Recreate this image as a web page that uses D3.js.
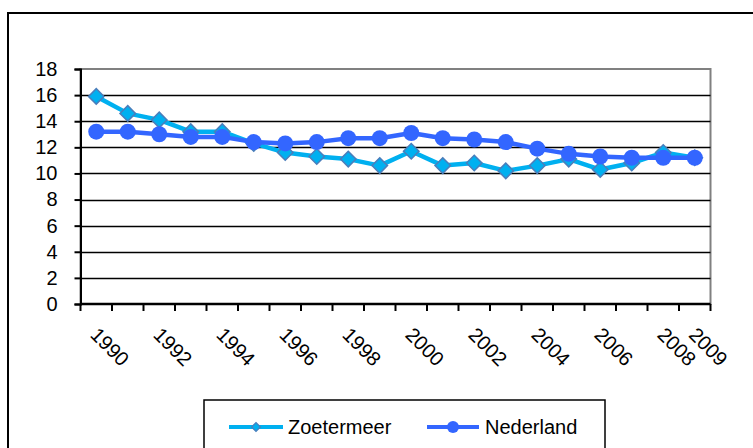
<!DOCTYPE html>
<html><head><meta charset="utf-8">
<script src="https://cdn.jsdelivr.net/npm/d3@7"></script>
<style>body{margin:0;background:#fff}svg{display:block}text{font-family:"Liberation Sans",Arial,sans-serif}</style>
</head><body><svg id="c" width="753" height="448"></svg>
<script>
const years = ["1990","1991","1992","1993","1994","1995","1996","1997","1998","1999","2000","2001","2002","2003","2004","2005","2006","2007","2008","2009"];
const zoetermeer = [15.9,14.6,14.1,13.2,13.2,12.3,11.6,11.3,11.1,10.6,11.7,10.6,10.8,10.2,10.6,11.1,10.3,10.8,11.6,11.2];
const nederland  = [13.2,13.2,13.0,12.8,12.8,12.4,12.3,12.4,12.7,12.7,13.1,12.7,12.6,12.4,11.9,11.5,11.3,11.2,11.2,11.2];
const shownLabels = ["1990","1992","1994","1996","1998","2000","2002","2004","2006","2008","2009"];
const yTicks = [0,2,4,6,8,10,12,14,16,18];
const seriesNames = ["Zoetermeer","Nederland"];

const svg = d3.select("#c");
const L=80.5, R=710.5, T=69, B=304;
const x = d3.scaleBand().domain(years).range([L,R]);
const y = d3.scaleLinear().domain([0,18]).range([B,T]);
const font = 20;

// outer chart border
svg.append("rect").attr("x",8).attr("y",13).attr("width",770).attr("height",470)
  .attr("fill","none").attr("stroke","#000").attr("stroke-width",2);

// plot area border
svg.append("rect").attr("x",L).attr("y",T).attr("width",R-L).attr("height",B-T)
  .attr("fill","none").attr("stroke","#808080").attr("stroke-width",2);

// gridlines
svg.append("g").selectAll("line").data(yTicks.filter(d=>d>0 && d<18)).join("line")
  .attr("x1",L).attr("x2",R).attr("y1",d=>Math.round(y(d))+0.5).attr("y2",d=>Math.round(y(d))+0.5)
  .attr("stroke","#000").attr("stroke-width",1.5);

// y axis
const yAxis = svg.append("g").attr("transform",`translate(${L},0)`)
  .call(d3.axisLeft(y).tickValues(yTicks).tickSize(6).tickPadding(17));
yAxis.select(".domain").attr("stroke","#000").attr("stroke-width",2);
yAxis.selectAll(".tick line").attr("stroke","#000").attr("stroke-width",2);
yAxis.selectAll(".tick text").attr("font-size",font).attr("fill","#000")
  .style("font-family",'"Liberation Sans",Arial,sans-serif');

// x axis
const xAxis = svg.append("g").attr("transform",`translate(0,${B})`);
xAxis.append("line").attr("x1",L).attr("x2",R).attr("y1",0).attr("y2",0).attr("stroke","#000").attr("stroke-width",2.5);
const edges = years.map(d=>x(d)).concat([R]);
xAxis.selectAll(".xt").data(edges).join("line").attr("class","xt")
  .attr("x1",d=>d).attr("x2",d=>d).attr("y1",0).attr("y2",7).attr("stroke","#000").attr("stroke-width",2);
xAxis.selectAll(".xl").data(shownLabels).join("text").attr("class","xl")
  .attr("transform",d=>`translate(${x(d)+x.bandwidth()/2-7},32) rotate(45)`)
  .attr("font-size",font).attr("fill","#000").text(d=>d);

const cx = d=>x(d)+x.bandwidth()/2;
const diamond = d3.symbol().type(d3.symbolSquare).size(120);

// Zoetermeer
const zData = years.map((d,i)=>({k:d,v:zoetermeer[i]}));
svg.append("path").datum(zData)
  .attr("d",d3.line().x(d=>cx(d.k)).y(d=>y(d.v)))
  .attr("fill","none").attr("stroke","#00B0F0").attr("stroke-width",4.5).attr("stroke-linejoin","round");
svg.append("g").selectAll("path").data(zData).join("path")
  .attr("d",diamond).attr("transform",d=>`translate(${cx(d.k)},${y(d.v)}) rotate(45)`)
  .attr("fill","#00B0F0").attr("stroke","#4A7EBB").attr("stroke-width",1.5);

// Nederland
const nData = years.map((d,i)=>({k:d,v:nederland[i]}));
svg.append("path").datum(nData)
  .attr("d",d3.line().x(d=>cx(d.k)).y(d=>y(d.v)))
  .attr("fill","none").attr("stroke","#3366FF").attr("stroke-width",4.5).attr("stroke-linejoin","round");
svg.append("g").selectAll("circle").data(nData).join("circle")
  .attr("cx",d=>cx(d.k)).attr("cy",d=>y(d.v)).attr("r",8)
  .attr("fill","#3366FF");

// legend
const lg = svg.append("g");
lg.append("rect").attr("x",204).attr("y",400).attr("width",401).attr("height",70)
  .attr("fill","#fff").attr("stroke","#000").attr("stroke-width",1.5);
const ly = 427;
lg.append("line").attr("x1",229).attr("x2",283).attr("y1",ly).attr("y2",ly).attr("stroke","#00B0F0").attr("stroke-width",4);
lg.append("path").attr("d",d3.symbol().type(d3.symbolSquare).size(40)).attr("transform",`translate(256,${ly}) rotate(45)`)
  .attr("fill","#00B0F0").attr("stroke","#4A7EBB").attr("stroke-width",1.2);
lg.append("text").attr("x",288).attr("y",ly+7).attr("font-size",font).text(seriesNames[0]);
lg.append("line").attr("x1",427).attr("x2",479).attr("y1",ly).attr("y2",ly).attr("stroke","#3366FF").attr("stroke-width",4);
lg.append("circle").attr("cx",453).attr("cy",ly).attr("r",6).attr("fill","#3366FF");
lg.append("text").attr("x",485).attr("y",ly+7).attr("font-size",font).text(seriesNames[1]);
</script></body></html>
